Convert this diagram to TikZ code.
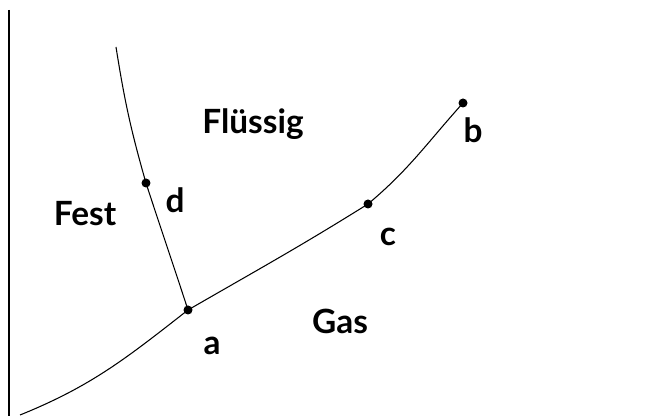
\documentclass[tikz,border=0pt]{standalone}
\usepackage{fontspec}
\setmainfont{Lato}
\usepackage{tikz}
\usetikzlibrary{positioning}

\begin{document}
\begin{tikzpicture}[
        x=0.02cm, y=0.02cm,
        punkt/.style={circle, fill=black, inner sep=0pt, minimum size=0.18cm},
        phase/.style={font=\fontsize{19}{22}\selectfont\bfseries},
        marke/.style={font=\fontsize{19}{22}\selectfont\bfseries},
        linie/.style={line width=0.6pt}
    ]
        \useasboundingbox (0,0) rectangle (660,416);

        % Achse
        \coordinate (oben) at (9,406);
        \coordinate (unten) at (9,0);
        \draw[linie] (oben) -- (unten);

        % Punkte
        \coordinate (start) at (20,1);
        \coordinate (spitze) at (116,369);
        \node[punkt] (a) at (188,106) {};
        \node[punkt] (c) at (368,212) {};
        \node[punkt] (b) at (463,313) {};
        \node[punkt] (d) at (146,233) {};

        % Kurven
        \draw[linie] (start) to[out=22, in=218] (a.center)
            to[out=30, in=212] (c.center)
            to[out=40, in=228] (b.center);
        \draw[linie] (a.center) to[out=108, in=-72] (d.center)
            to[out=106, in=-81] (spitze);

        % Beschriftung
        \node[phase] (fl) at (253,292) {Flüssig};
        \node[phase] (fest) at (85,202) {Fest};
        \node[phase] (gas) at (340,95) {Gas};
        \node[marke] (la) at (212,70) {a};
        \node[marke] (lb) at (473,286) {b};
        \node[marke] (lc) at (388,179) {c};
        \node[marke] (ld) at (175,216) {d};
    \end{tikzpicture}
\end{document}
